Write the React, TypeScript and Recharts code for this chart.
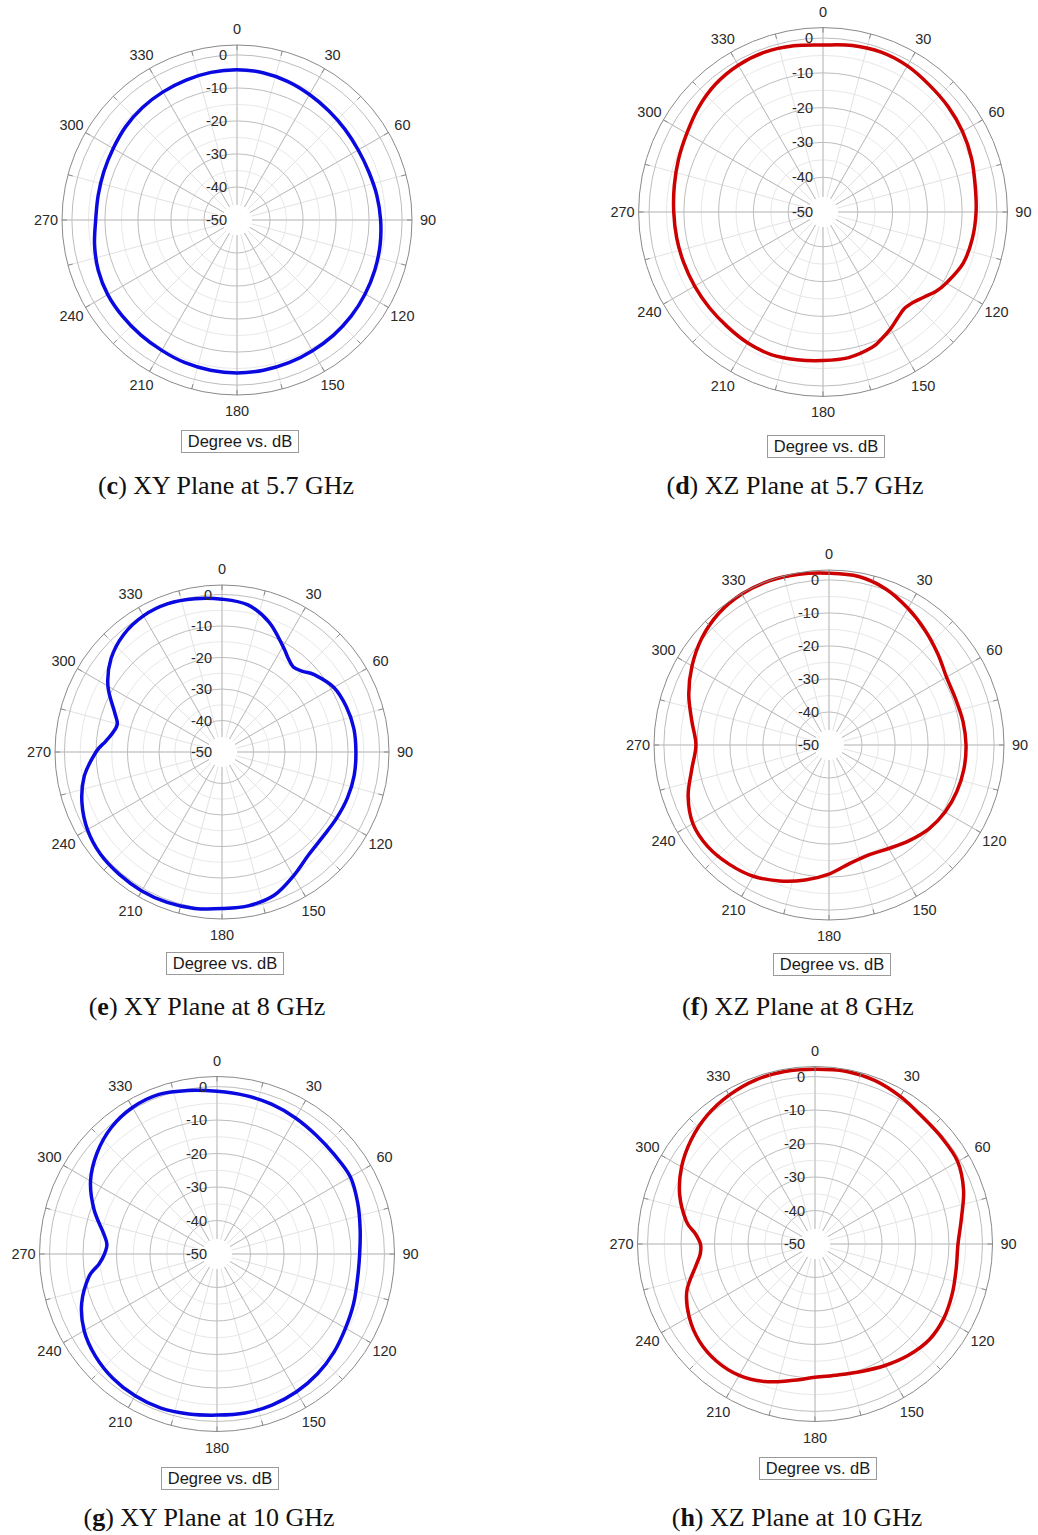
import React from 'react';
import { RadarChart, Radar, PolarGrid, PolarAngleAxis, PolarRadiusAxis, Legend } from 'recharts';

// ---------- data ----------
const SERIES_NAME = 'Degree vs. dB';
const ANGLE_TICKS = [0, 30, 60, 90, 120, 150, 180, 210, 240, 270, 300, 330];
const MINOR_ANGLE_TICKS = [0, 15, 30, 45, 60, 75, 90, 105, 120, 135, 150, 165, 180, 195, 210, 225, 240, 255, 270, 285, 300, 315, 330, 345];
const RADIUS_TICKS = [-50, -40, -30, -20, -10, 0];
const MINOR_RADIUS_TICKS = [-35, -25, -15, -5];
const RADIUS_DOMAIN = [-50, 3];

// (c) XY plane 5.7 GHz
const ANGLES_C = [0, 10, 20, 30, 40, 50, 60, 70, 80, 90, 100, 110, 120, 130, 140, 150, 160, 170, 180, 190, 200, 210, 220, 230, 240, 250, 260, 270, 280, 290, 300, 310, 320, 330, 340, 350];
const DB_C = [-4.5, -4.7, -5.3, -6.1, -6.8, -7.3, -7.6, -7.5, -7.0, -6.5, -6.0, -5.6, -5.2, -4.8, -4.5, -4.3, -4.0, -3.8, -3.7, -3.8, -4.0, -4.4, -4.6, -4.7, -4.8, -5.3, -6.2, -7.2, -7.3, -7.1, -6.7, -6.0, -5.5, -5.2, -4.9, -4.6];

// (d) XZ plane 5.7 GHz
const ANGLES_D = [0, 10, 20, 30, 40, 50, 60, 70, 80, 90, 100, 110, 120, 125, 130, 135, 140, 145, 150, 155, 160, 170, 180, 190, 200, 210, 220, 230, 240, 250, 260, 270, 280, 290, 300, 310, 320, 330, 340, 350];
const DB_D = [-2.0, -1.4, -1.1, -1.5, -2.4, -3.0, -3.7, -4.6, -5.6, -6.0, -6.4, -7.1, -9.1, -10.3, -12.0, -13.3, -13.7, -12.7, -11.2, -9.9, -8.6, -7.5, -7.3, -6.9, -6.4, -6.6, -7.1, -7.3, -7.4, -7.4, -7.3, -7.1, -6.6, -5.8, -4.8, -3.3, -2.0, -1.3, -1.1, -1.5];

// (e) XY plane 8 GHz
const ANGLES_E = [0, 10, 20, 30, 35, 40, 45, 50, 60, 70, 80, 90, 100, 110, 120, 130, 140, 150, 160, 170, 180, 190, 200, 210, 220, 230, 240, 250, 260, 270, 275, 280, 285, 290, 300, 310, 320, 330, 340, 350];
const DB_E = [-1.5, -2.6, -6.2, -11.3, -13.5, -14.8, -13.8, -11.8, -9.0, -8.0, -7.5, -7.5, -7.4, -7.6, -8.0, -8.2, -7.3, -4.6, -1.6, -0.5, -0.3, 0.4, 0.8, 0.9, 0.7, 0.4, -0.7, -2.7, -5.6, -10.0, -12.8, -14.8, -15.6, -13.8, -8.2, -4.0, -1.4, -0.1, 0.1, -0.6];

// (f) XZ plane 8 GHz
const ANGLES_F = [0, 10, 20, 30, 40, 50, 60, 70, 80, 90, 100, 110, 120, 130, 140, 150, 160, 170, 180, 190, 200, 210, 220, 230, 240, 250, 260, 270, 280, 290, 300, 310, 320, 330, 340, 350];
const DB_F = [2.0, 1.8, 0.3, -2.2, -4.7, -7.0, -8.9, -9.2, -8.8, -8.5, -8.5, -8.8, -9.4, -10.5, -12.2, -13.8, -14.6, -13.6, -10.9, -8.5, -6.2, -4.1, -2.9, -2.1, -2.4, -4.6, -7.8, -9.7, -7.8, -4.8, -2.1, 0.3, 2.0, 2.8, 2.9, 2.5];

// (g) XY plane 10 GHz
const ANGLES_G = [0, 10, 20, 30, 40, 50, 60, 70, 80, 90, 100, 110, 120, 130, 140, 150, 160, 170, 180, 190, 200, 210, 220, 230, 240, 250, 260, 265, 270, 275, 280, 290, 300, 310, 320, 330, 340, 350];
const DB_G = [-1.4, -1.9, -2.4, -3.1, -3.8, -4.1, -4.0, -5.3, -6.6, -7.4, -7.4, -6.6, -5.7, -4.4, -3.3, -2.5, -2.0, -1.8, -1.9, -1.5, -1.0, -1.1, -1.6, -2.6, -4.2, -7.0, -11.2, -14.6, -16.4, -17.0, -15.7, -10.9, -6.4, -3.2, -0.8, 0.5, 0.7, -0.4];

// (h) XZ plane 10 GHz
const ANGLES_H = [0, 10, 20, 30, 40, 50, 60, 70, 80, 90, 100, 110, 120, 130, 140, 150, 160, 170, 180, 190, 200, 210, 220, 230, 240, 250, 260, 265, 270, 275, 280, 290, 300, 310, 320, 330, 340, 350];
const DB_H = [2.2, 2.4, 2.0, 0.9, -0.3, -0.6, -0.8, -2.8, -5.6, -7.3, -7.2, -6.4, -5.6, -5.5, -6.6, -8.1, -9.5, -10.3, -10.2, -8.6, -6.3, -4.7, -4.3, -4.9, -6.6, -9.3, -14.0, -15.6, -15.8, -14.1, -11.0, -7.0, -4.0, -1.7, 0.1, 1.3, 2.1, 2.3];

const CAPTION_LETTERS = ['c', 'd', 'e', 'f', 'g', 'h'];
const CAPTION_TEXTS = ['XY Plane at 5.7 GHz', 'XZ Plane at 5.7 GHz', 'XY Plane at 8 GHz', 'XZ Plane at 8 GHz', 'XY Plane at 10 GHz', 'XZ Plane at 10 GHz'];

const zip = (angles: number[], db: number[]) => angles.map((a, i) => ({ angle: a, db: db[i] }));

// ---------- layout / style ----------
const BLUE = '#0a0ae0';
const RED = '#cc0000';
const W = 500;
const H = 500;

const PANELS = [
  { data: zip(ANGLES_C, DB_C), color: BLUE, cx: 237, cy: 220, R: 175, legendY: 441, capX: 226, capY: 486 },
  { data: zip(ANGLES_D, DB_D), color: RED, cx: 823, cy: 212, R: 184.4, legendY: 446, capX: 795, capY: 486 },
  { data: zip(ANGLES_E, DB_E), color: BLUE, cx: 222, cy: 752, R: 167, legendY: 963, capX: 207, capY: 1007 },
  { data: zip(ANGLES_F, DB_F), color: RED, cx: 829, cy: 745, R: 175, legendY: 964, capX: 798, capY: 1007 },
  { data: zip(ANGLES_G, DB_G), color: BLUE, cx: 217, cy: 1254, R: 177.5, legendY: 1478, capX: 209, capY: 1518 },
  { data: zip(ANGLES_H, DB_H), color: RED, cx: 815, cy: 1244, R: 177.5, legendY: 1468, capX: 797, capY: 1518 },
];

const SANS = '"Liberation Sans", Arial, Helvetica, sans-serif';
const SERIF = '"Liberation Serif", "DejaVu Serif", serif';

const AngleTick = (props: any) => {
  const { x, y, payload } = props;
  return (
    <text x={x} y={y} dy="0.35em" textAnchor="middle" fontSize={14.5} fill="#2a2a2a" fontFamily={SANS}>
      {payload.value}
    </text>
  );
};

const RadiusTick = (props: any) => {
  const { x, y, payload } = props;
  return (
    <text x={x - 10} y={y} dy="0.35em" textAnchor="end" fontSize={14.5} fill="#2a2a2a" fontFamily={SANS}>
      {payload.value}
    </text>
  );
};

// closed Catmull-Rom spline through the points the library computed
const smoothClosedPath = (pts: { x: number; y: number }[]) => {
  const n = pts.length;
  if (n < 3) return '';
  const f = (v: number) => v.toFixed(2);
  let d = `M${f(pts[0].x)},${f(pts[0].y)}`;
  for (let i = 0; i < n; i++) {
    const p0 = pts[(i - 1 + n) % n];
    const p1 = pts[i];
    const p2 = pts[(i + 1) % n];
    const p3 = pts[(i + 2) % n];
    const c1x = p1.x + (p2.x - p0.x) / 6;
    const c1y = p1.y + (p2.y - p0.y) / 6;
    const c2x = p2.x - (p3.x - p1.x) / 6;
    const c2y = p2.y - (p3.y - p1.y) / 6;
    d += ` C${f(c1x)},${f(c1y)} ${f(c2x)},${f(c2y)} ${f(p2.x)},${f(p2.y)}`;
  }
  return d + ' Z';
};

const SmoothRadarShape = (props: any) => {
  const { points, stroke, strokeWidth } = props;
  if (!points || !points.length) return null;
  return (
    <path
      d={smoothClosedPath(points)}
      fill="none"
      stroke={stroke}
      strokeWidth={strokeWidth}
      strokeLinejoin="round"
      className="recharts-radar-polygon"
    />
  );
};

const LegendBox = (props: any) => {
  const { payload } = props;
  const name = payload && payload.length ? payload[0].value : '';
  return (
    <div style={{ display: 'flex', justifyContent: 'center' }}>
      <div
        style={{
          border: '1px solid #9a9a9a',
          background: '#fff',
          padding: '1px 6px',
          fontFamily: SANS,
          fontSize: 16.5,
          lineHeight: '19px',
          color: '#1a1a1a',
          marginLeft: 6,
        }}
      >
        {name}
      </div>
    </div>
  );
};

const HOLE_DASH = '0 15 2000';

const Panel = ({ p }: { p: any }) => {
  const left = p.cx - W / 2;
  const top = p.cy - H / 2;
  return (
    <div style={{ position: 'absolute', left, top, width: W, height: H }}>
      <RadarChart
        width={W}
        height={H}
        cx={W / 2}
        cy={H / 2}
        innerRadius={0}
        outerRadius={p.R}
        startAngle={90}
        endAngle={-270}
        data={p.data}
        margin={{ top: 0, right: 0, bottom: 0, left: 0 }}
      >
        <PolarGrid gridType="circle" angleAxisId="minor" radiusAxisId="minor" radialLines={false} stroke="#e8e8e8" strokeWidth={1} />
        <PolarGrid gridType="circle" angleAxisId="minor" radiusAxisId="minor" polarRadius={[]} stroke="#e2e2e2" strokeWidth={1} strokeDasharray={HOLE_DASH} />
        <PolarGrid gridType="circle" radialLines={false} stroke="#bdbdbd" strokeWidth={1} />
        <PolarGrid gridType="circle" polarRadius={[]} stroke="#bdbdbd" strokeWidth={1} strokeDasharray={HOLE_DASH} />
        <PolarAngleAxis
          angleAxisId="minor"
          dataKey="angle"
          type="number"
          scale="linear"
          domain={[0, 360]}
          ticks={MINOR_ANGLE_TICKS}
          tick={false}
          axisLine={false}
          tickLine={{ stroke: '#8a8a8a' }}
          orientation="inner"
          tickSize={5}
        />
        <PolarAngleAxis
          dataKey="angle"
          type="number"
          scale="linear"
          domain={[0, 360]}
          ticks={ANGLE_TICKS}
          axisLineType="circle"
          axisLine={{ stroke: '#8a8a8a', strokeWidth: 1 }}
          tickLine={false}
          tickSize={16}
          tick={<AngleTick />}
        />
        <PolarRadiusAxis
          radiusAxisId="minor"
          type="number"
          domain={RADIUS_DOMAIN}
          ticks={MINOR_RADIUS_TICKS}
          allowDataOverflow
          angle={90}
          axisLine={false}
          tickLine={false}
          tick={false}
        />
        <PolarRadiusAxis
          type="number"
          domain={RADIUS_DOMAIN}
          ticks={RADIUS_TICKS}
          allowDataOverflow
          angle={90}
          axisLine={false}
          tickLine={false}
          tick={<RadiusTick />}
        />
        <Radar
          name={SERIES_NAME}
          dataKey="db"
          stroke={p.color}
          strokeWidth={3.5}
          fill="none"
          fillOpacity={0}
          dot={false}
          isAnimationActive={false}
          shape={SmoothRadarShape}
        />
        <Legend
          verticalAlign="middle"
          align="center"
          layout="horizontal"
          content={<LegendBox />}
          wrapperStyle={{ top: p.legendY - top - 11, left: 0, width: W, height: 23 }}
        />
      </RadarChart>
    </div>
  );
};

const Caption = ({ i, x, y }: { i: number; x: number; y: number }) => (
  <div
    style={{
      position: 'absolute',
      left: x - 250,
      top: y - 16,
      width: 500,
      textAlign: 'center',
      fontFamily: SERIF,
      fontSize: 26,
      lineHeight: '32px',
      color: '#111',
    }}
  >
    (<b>{CAPTION_LETTERS[i]}</b>) {CAPTION_TEXTS[i]}
  </div>
);

export default function App() {
  return (
    <div style={{ position: 'absolute', left: 0, top: 0, width: 1038, height: 1535, overflow: 'hidden', background: '#fff' }}>
      {PANELS.map((p, i) => (
        <Panel key={i} p={p} />
      ))}
      {PANELS.map((p, i) => (
        <Caption key={'c' + i} i={i} x={p.capX} y={p.capY} />
      ))}
    </div>
  );
}
